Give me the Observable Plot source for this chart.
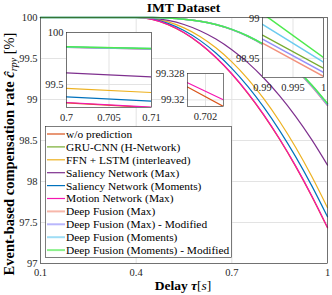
<!DOCTYPE html>
<html>
<head>
<meta charset="utf-8">
<script src="https://cdn.jsdelivr.net/npm/d3@7"></script>
<script src="https://cdn.jsdelivr.net/npm/@observablehq/plot@0.6"></script>
<style>
  html, body { margin: 0; padding: 0; background: white; }
  #wrap { position: relative; width: 332px; height: 295px; overflow: hidden; }
  #wrap svg { position: absolute; }
</style>
</head>
<body>
<div id="wrap"></div>
<script>
// ---------- data ----------
const seriesNames = [
  "w/o prediction",
  "GRU-CNN (H-Network)",
  "FFN + LSTM (interleaved)",
  "Saliency Network (Max)",
  "Saliency Network (Moments)",
  "Motion Network (Max)",
  "Deep Fusion (Max)",
  "Deep Fusion (Max) - Modified",
  "Deep Fusion (Moments)",
  "Deep Fusion (Moments) - Modified"
];
const seriesColors = ["#D95319", "#77AC30", "#EDB120", "#7E2F8E", "#0072BD", "#F516B0",
                      "#F2917C", "#9490FA", "#6CCBEF", "#4EEA4E"];

const delays = [0.1, 0.2, 0.3, 0.4, 0.45, 0.5, 0.55, 0.6, 0.65, 0.7, 0.75, 0.8, 0.85, 0.9, 0.95, 1.0];

const woPrediction  = [100, 100, 100, 100, 99.976, 99.913, 99.813, 99.679, 99.510, 99.309, 99.075, 98.810, 98.513, 98.185, 97.825, 97.435];
const gruCnn        = [100, 100, 100, 100, 99.999, 99.994, 99.980, 99.955, 99.914, 99.853, 99.772, 99.667, 99.534, 99.370, 99.171, 98.9375];
const ffnLstm       = [100, 100, 100, 100, 99.987, 99.946, 99.874, 99.769, 99.631, 99.459, 99.252, 99.010, 98.732, 98.418, 98.067, 97.680];
const salMax        = [100, 100, 100, 100, 99.992, 99.965, 99.915, 99.839, 99.738, 99.608, 99.450, 99.262, 99.044, 98.795, 98.514, 98.200];
const salMoments    = [100, 100, 100, 100, 99.982, 99.929, 99.842, 99.721, 99.567, 99.380, 99.160, 98.907, 98.621, 98.303, 97.953, 97.570];
const motionMax     = [100, 100, 100, 100, 99.977, 99.915, 99.816, 99.683, 99.515, 99.314, 99.080, 98.815, 98.518, 98.190, 97.830, 97.440];
const dfMax         = [100, 100, 100, 100, 99.999, 99.994, 99.980, 99.955, 99.914, 99.852, 99.770, 99.664, 99.529, 99.364, 99.163, 98.9275];
const dfMaxMod      = [100, 100, 100, 100, 99.999, 99.994, 99.980, 99.955, 99.914, 99.853, 99.771, 99.666, 99.531, 99.367, 99.167, 98.9325];
const dfMoments     = [100, 100, 100, 100, 99.999, 99.994, 99.980, 99.955, 99.914, 99.855, 99.775, 99.671, 99.537, 99.374, 99.177, 98.945];
const dfMomentsMod  = [100, 100, 100, 100, 99.999, 99.994, 99.980, 99.955, 99.914, 99.855, 99.775, 99.671, 99.539, 99.377, 99.181, 98.951];
const mainSeries = [woPrediction, gruCnn, ffnLstm, salMax, salMoments, motionMax, dfMax, dfMaxMod, dfMoments, dfMomentsMod];

const xTicks = [0.1, 0.4, 0.7, 1];
const yTicks = [97, 97.5, 98, 98.5, 99, 99.5, 100];

// inset 1: delay 0.7 .. 0.71
const inset1X = [0.7, 0.71];
const inset1Values = [
  [99.323, 99.278], [99.859, 99.843], [99.462, 99.423], [99.612, 99.574], [99.382, 99.340],
  [99.327, 99.282], [99.857, 99.841], [99.858, 99.842], [99.861, 99.845], [99.862, 99.846]
];
const inset1XTicks = [0.7, 0.705, 0.71];
const inset1YTicks = [99.5, 100];

// inset 2: around 0.702 (only w/o prediction and Motion Network visible)
const inset2X = [0.7015, 0.7025];
const inset2Series = [0, 5];
const inset2Values = [[99.3239, 99.3180], [99.3252, 99.3200]];
const inset2XTicks = [0.702];
const inset2YTicks = [99.32, 99.328];

// inset 3: delay 0.99 .. 1 (upper group)
const inset3X = [0.99, 1];
const inset3Series = [1, 6, 7, 8, 9];
const inset3Values = [[98.979, 98.9375], [98.969, 98.9275], [98.974, 98.9325], [98.9925, 98.945], [99.006, 98.951]];
const inset3XTicks = [0.99, 0.995, 1];
const inset3YTicks = [98.95, 99];

// ---------- build ----------
const FONT = "Liberation Serif";
const fmt = d => String(+d.toFixed(4));
const colorScale = {domain: seriesNames, range: seriesColors};
const widthOf = name => (seriesNames.indexOf(name) >= 6 ? 1.5 : 1.2);

const mainRows = [];
mainSeries.forEach((vals, i) => vals.forEach((v, j) => mainRows.push({series: seriesNames[i], delay: delays[j], value: v})));

const wrap = document.getElementById("wrap");

const main = Plot.plot({
  width: 332, height: 295,
  marginLeft: 40, marginRight: 5, marginTop: 17, marginBottom: 32,
  style: {fontFamily: FONT, fontSize: "10.5px", background: "white", color: "#262626", overflow: "visible"},
  x: {domain: [0.1, 1], ticks: xTicks, tickFormat: fmt, label: null, tickSize: 0, tickPadding: 5},
  y: {domain: [97, 100], ticks: yTicks, tickFormat: fmt, label: null, tickSize: 0, tickPadding: 3},
  color: colorScale,
  marks: [
    Plot.gridX(xTicks, {stroke: "#e3e3e3", strokeOpacity: 1}),
    Plot.gridY(yTicks, {stroke: "#e3e3e3", strokeOpacity: 1}),
    Plot.line(mainRows, {x: "delay", y: "value", z: "series", stroke: "series", strokeWidth: d => widthOf(d.series), curve: "monotone-x"}),
    Plot.frame({stroke: "#262626", strokeWidth: 0.6})
  ]
});
main.style.left = "0px"; main.style.top = "0px";
wrap.appendChild(main);

const svg = d3.select(main);
// title
svg.append("text").attr("x", 183.5).attr("y", 12).attr("text-anchor", "middle")
  .style("font-family", FONT).style("font-size", "13.5px").style("font-weight", "bold").attr("fill", "#000")
  .text("IMT Dataset");
// x label
const xl = svg.append("text").attr("x", 183).attr("y", 290).attr("text-anchor", "middle")
  .style("font-family", FONT).style("font-size", "13.5px").style("font-weight", "bold").attr("fill", "#000");
xl.append("tspan").text("Delay ");
xl.append("tspan").style("font-style", "italic").text("τ");
xl.append("tspan").style("font-weight", "normal").text("[");
xl.append("tspan").style("font-weight", "normal").style("font-style", "italic").text("s");
xl.append("tspan").style("font-weight", "normal").text("]");
// y label
const yl = svg.append("text").attr("transform", "translate(14,154) rotate(-90)").attr("text-anchor", "middle")
  .style("font-family", FONT).style("font-size", "14.5px").style("font-weight", "bold").attr("fill", "#000");
yl.append("tspan").text("Event-based compensation rate ");
yl.append("tspan").style("font-style", "italic").text("ĉ");
yl.append("tspan").attr("dy", 3).style("font-style", "italic").style("font-weight", "normal").style("font-size", "10px").text("rpy");
yl.append("tspan").attr("dy", -3).style("font-weight", "normal").text(" [%]");

// legend
const lg = svg.append("g");
lg.append("rect").attr("x", 45.5).attr("y", 126.5).attr("width", 186).attr("height", 131)
  .attr("fill", "white").attr("stroke", "#262626").attr("stroke-width", 0.6);
seriesNames.forEach((name, i) => {
  const cy = 134 + i * 12.9;
  lg.append("line").attr("x1", 47).attr("x2", 65).attr("y1", cy).attr("y2", cy)
    .attr("stroke", seriesColors[i]).attr("stroke-width", i >= 6 ? 2 : 1.2)
    .attr("stroke-opacity", i >= 6 ? 0.65 : 1);
  lg.append("text").attr("x", 66).attr("y", cy).attr("dy", "0.35em").attr("text-anchor", "start")
    .style("font-family", FONT).style("font-size", "11.4px").attr("fill", "#000").text(name);
});

// insets
function makeInset({left, top, w, h, xDomain, yDomain, xT, yT, rows}) {
  const mL = 40, mR = 8, mT = 8, mB = 22;
  const p = Plot.plot({
    width: w + mL + mR, height: h + mT + mB,
    marginLeft: mL, marginRight: mR, marginTop: mT, marginBottom: mB,
    style: {fontFamily: FONT, fontSize: "10.5px", background: "transparent", color: "#262626", overflow: "visible"},
    x: {domain: xDomain, ticks: xT, tickFormat: fmt, label: null, tickSize: 0, tickPadding: 6},
    y: {domain: yDomain, ticks: yT, tickFormat: fmt, label: null, tickSize: 0, tickPadding: 3},
    color: colorScale,
    marks: [
      Plot.frame({fill: "white"}),
      Plot.gridX(xT, {stroke: "#e3e3e3", strokeOpacity: 1}),
      Plot.gridY(yT, {stroke: "#e3e3e3", strokeOpacity: 1}),
      Plot.line(rows, {x: "delay", y: "value", z: "series", stroke: "series", strokeWidth: d => widthOf(d.series), clip: true}),
      Plot.frame({stroke: "#262626", strokeWidth: 0.6})
    ]
  });
  p.style.left = (left - mL) + "px";
  p.style.top = (top - mT) + "px";
  wrap.appendChild(p);
}
function insetRows(xs, idx, vals) {
  const r = [];
  idx.forEach((si, k) => vals[k].forEach((v, j) => r.push({series: seriesNames[si], delay: xs[j], value: v})));
  return r;
}
makeInset({left: 66, top: 32, w: 85, h: 75, xDomain: inset1X, yDomain: [99.279, 100],
  xT: inset1XTicks, yT: inset1YTicks, rows: insetRows(inset1X, seriesNames.map((_, i) => i), inset1Values)});
makeInset({left: 187, top: 73, w: 36, h: 33, xDomain: inset2X, yDomain: [99.318, 99.328],
  xT: inset2XTicks, yT: inset2YTicks, rows: insetRows(inset2X, inset2Series, inset2Values)});
makeInset({left: 262, top: 17, w: 61, h: 60, xDomain: inset3X, yDomain: [98.926, 99.001],
  xT: inset3XTicks, yT: inset3YTicks, rows: insetRows(inset3X, inset3Series, inset3Values)});
</script>
</body>
</html>
